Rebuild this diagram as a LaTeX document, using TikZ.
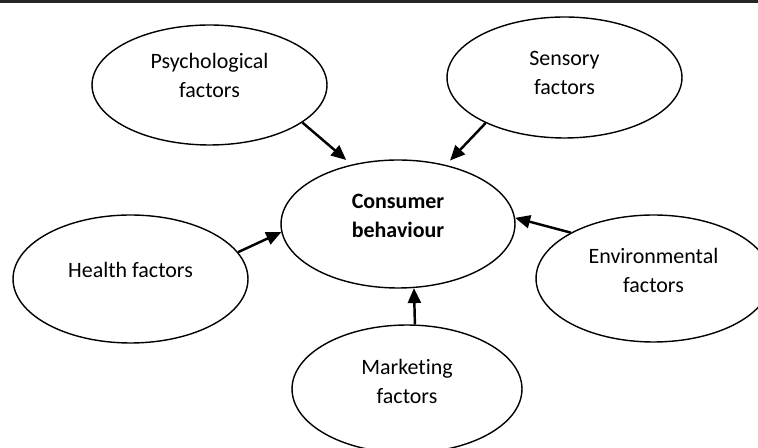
\documentclass[tikz,border=0pt]{standalone}
\usepackage{fontspec}
\setmainfont{Carlito}[Ligatures=NoCommon]
\usetikzlibrary{shapes.geometric,arrows.meta}

\begin{document}
\begin{tikzpicture}[x=0.02cm,y=-0.02cm,
  factor/.style={ellipse,draw,line width=0.8pt,minimum width=4.7cm,minimum height=2.56cm},
  txt/.style={align=center,inner sep=0pt,font=\fontsize{12.5}{16.5}\selectfont},
  arr/.style={line width=1.4pt,-{Triangle[length=0.3cm,width=0.26cm]}}]
  \clip (0,0) rectangle (758,448);
  \draw[line width=1.2pt,black!85] (0,1.5) -- (758,1.5);

  % ellipses
  \node[factor,minimum width=4.68cm] (con) at (398,224) {};
  \node[factor,minimum height=2.4cm] (psy) at (209.5,85) {};
  \node[factor,minimum height=2.42cm] (sen) at (564.5,77.5) {};
  \node[factor] (hea) at (130.5,279) {};
  \node[factor,minimum height=2.54cm] (env) at (653.5,278.5) {};
  \node[factor,minimum width=4.6cm] (mkt) at (407,389) {};

  % labels
  \node[txt] (con-t) at ([yshift=0.16cm]con.center) {\textbf{Consumer}\\\textbf{behaviour}};
  \node[txt] (psy-t) at ([yshift=0.2cm]psy.center) {Psychological\\factors};
  \node[txt] (sen-t) at ([yshift=0.1cm]sen.center) {Sensory\\factors};
  \node[txt] (hea-t) at ([yshift=0.19cm]hea.center) {Health factors};
  \node[txt] (env-t) at ([yshift=0.16cm]env.center) {Environmental\\factors};
  \node[txt] (mkt-t) at ([yshift=0.16cm]mkt.center) {Marketing\\factors};

  % arrows into the centre
  \draw[arr,shorten >=0.14cm] (psy.-22.3) -- (con.128.7);
  \draw[arr,shorten >=0.12cm] (sen.-150) -- (con.51.5);
  \draw[arr] (hea.14.2) -- (con.184.5);
  \draw[arr] (env.151.8) -- (con.3.9);
  \draw[arr] (mkt.83.6) -- (con.-76.2);
\end{tikzpicture}
\end{document}
